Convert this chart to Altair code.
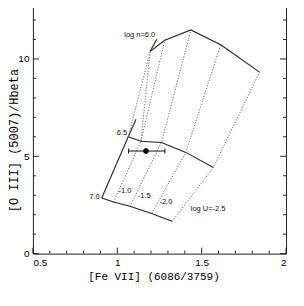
import altair as alt
import pandas as pd

# ---- model grid: density curves (log n), vertices ordered by log U = -0.5 ... -2.5
n60_x = [1.195, 1.281, 1.436, 1.613, 1.843]
n60_y = [10.39, 10.96, 11.49, 10.73, 9.32]
n65_x = [1.065, 1.140, 1.262, 1.406, 1.569]
n65_y = [6.00, 5.77, 5.71, 5.20, 4.42]
n70_x = [0.908, 0.978, 1.075, 1.203, 1.325]
n70_y = [2.86, 2.65, 2.43, 2.06, 1.66]
# short solid tails at the upper-left ends of the log n = 6.0 and 6.5 curves
tail60_x = [1.195, 1.234]
tail60_y = [10.39, 11.01]
tail65_x = [1.065, 1.111]
tail65_y = [6.00, 6.90]

# ---- observed point with error bars
obs_x = [1.170]
obs_y = [5.27]
obs_xlo = [1.067]
obs_xhi = [1.282]
obs_yerr = [0.15]

# ---- in-plot labels
lab_text = ["log n=6.0", "6.5", "7.0", "-1.0", "-1.5", "-2.0", "log U=-2.5"]
lab_x = [1.133, 1.027, 0.864, 1.046, 1.160, 1.288, 1.538]
lab_y = [11.22, 6.17, 2.91, 3.23, 2.97, 2.65, 2.30]

# ---- axis ticks
x_major = [0.5, 1.0, 1.5, 2.0]
x_minor = [0.6, 0.7, 0.8, 0.9, 1.1, 1.2, 1.3, 1.4, 1.6, 1.7, 1.8, 1.9]
y_major = [0, 5, 10]
y_minor = [1, 2, 3, 4, 6, 7, 8, 9, 11, 12]

W, H = 254, 254

solid_rows = []
def add(rows, name, xs, ys):
    for i, (a, b) in enumerate(zip(xs, ys)):
        rows.append({"g": name, "o": i, "x": a, "y": b})

add(solid_rows, "n60", n60_x, n60_y)
add(solid_rows, "n65", n65_x, n65_y)
add(solid_rows, "n70", n70_x, n70_y)
add(solid_rows, "t60", tail60_x, tail60_y)
add(solid_rows, "t65", tail65_x, tail65_y)
add(solid_rows, "edge", [n70_x[0], n65_x[0]], [n70_y[0], n65_y[0]])

dot_rows = []
add(dot_rows, "u0", [n65_x[0], n60_x[0]], [n65_y[0], n60_y[0]])
add(dot_rows, "u0b", [n65_x[1], n60_x[0]], [n65_y[1], n60_y[0]])
for i in range(1, 5):
    add(dot_rows, f"u{i}", [n70_x[i], n65_x[i], n60_x[i]], [n70_y[i], n65_y[i], n60_y[i]])

solid_df = pd.DataFrame(solid_rows)
dot_df = pd.DataFrame(dot_rows)

xs = alt.Scale(domain=[0.5, 2.0], nice=False, zero=False)
ys = alt.Scale(domain=[0, 13], nice=False, zero=False)

xaxis = alt.Axis(values=x_major, format="~g", ticks=False, domain=False, grid=False,
                 labelFont="Liberation Sans", labelFontSize=10, labelPadding=4,
                 labelColor="black",
                 title="[Fe VII] (6086/3759)", titleFont="Liberation Mono",
                 titleFontSize=11, titleFontWeight="normal", titleColor="black",
                 titleX=121, titleY=23, titleBaseline="middle")
yaxis = alt.Axis(values=y_major, format="d", ticks=False, domain=False, grid=False,
                 labelFont="Liberation Sans", labelFontSize=10, labelPadding=4,
                 labelColor="black",
                 title="[O III] (5007)/Hbeta", titleFont="Liberation Mono",
                 titleFontSize=12, titleFontWeight="normal", titleColor="black",
                 titleAngle=270, titleX=-19, titleY=140, titleBaseline="middle",
                 titleAlign="center")

def X(f="x"):
    return alt.X(f, type="quantitative", scale=xs, axis=xaxis)

def Y(f="y"):
    return alt.Y(f, type="quantitative", scale=ys, axis=yaxis)

solid = alt.Chart(solid_df).mark_line(color="#222", strokeWidth=1.1).encode(
    x=X(), y=Y(), detail="g:N", order="o:Q")
dotted = alt.Chart(dot_df).mark_line(color="#555", strokeWidth=0.9, strokeDash=[1.2, 1.6]).encode(
    x=X(), y=Y(), detail="g:N", order="o:Q")

obs_df = pd.DataFrame({"x": obs_x, "y": obs_y, "xlo": obs_xlo, "xhi": obs_xhi,
                       "ylo": [a - e for a, e in zip(obs_y, obs_yerr)],
                       "yhi": [a + e for a, e in zip(obs_y, obs_yerr)]})
cap = 0.13
caps_df = pd.DataFrame({"x": obs_xlo + obs_xhi, "y1": [obs_y[0] - cap] * 2, "y2": [obs_y[0] + cap] * 2})

hbar = alt.Chart(obs_df).mark_rule(color="#111", strokeWidth=1).encode(
    x=X("xlo"), x2="xhi", y=Y())
vbar = alt.Chart(obs_df).mark_rule(color="#111", strokeWidth=1).encode(
    x=X(), y=Y("ylo"), y2="yhi")
caps = alt.Chart(caps_df).mark_rule(color="#111", strokeWidth=1).encode(
    x=X(), y=Y("y1"), y2="y2")
pt = alt.Chart(obs_df).mark_point(filled=True, shape="circle", size=30, color="black", opacity=1).encode(
    x=X(), y=Y())

lab_df = pd.DataFrame({"t": lab_text, "x": lab_x, "y": lab_y})
labels = alt.Chart(lab_df).mark_text(font="Liberation Sans", fontSize=7.5, color="#111",
                                     align="center", baseline="middle").encode(
    x=X(), y=Y(), text="t:N")

def tick_layers():
    out = []
    for vals, ln in ((x_major, 6), (x_minor, 3)):
        d = pd.DataFrame({"x": vals})
        out.append(alt.Chart(d).mark_rule(color="#222", strokeWidth=1).encode(
            x=X(), y=alt.value(H), y2=alt.value(H - ln)))
        out.append(alt.Chart(d).mark_rule(color="#222", strokeWidth=1).encode(
            x=X(), y=alt.value(0), y2=alt.value(ln)))
    for vals, ln in ((y_major, 6), (y_minor, 3)):
        d = pd.DataFrame({"y": vals})
        out.append(alt.Chart(d).mark_rule(color="#222", strokeWidth=1).encode(
            y=Y(), x=alt.value(0), x2=alt.value(ln)))
        out.append(alt.Chart(d).mark_rule(color="#222", strokeWidth=1).encode(
            y=Y(), x=alt.value(W), x2=alt.value(W - ln)))
    return out

chart = alt.layer(solid, dotted, hbar, vbar, caps, pt, labels, *tick_layers()).properties(
    width=W, height=H,
    autosize=alt.AutoSizeParams(type="none"),
    padding={"left": 25, "top": -8, "right": 10, "bottom": 36},
).configure_view(stroke="#222", strokeWidth=1)

chart.save("out.html", embed_options={"renderer": "svg", "actions": False})
